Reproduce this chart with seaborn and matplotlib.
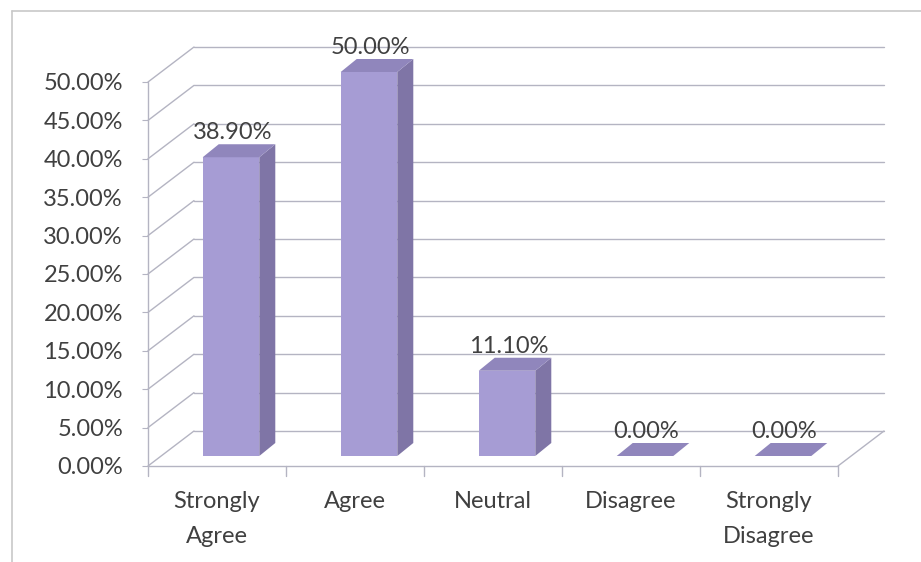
import matplotlib
matplotlib.use("Agg")
import matplotlib.pyplot as plt
import seaborn as sns
import numpy as np
from matplotlib.patches import Polygon
from matplotlib.lines import Line2D

categories = ["Strongly\nAgree", "Agree", "Neutral", "Disagree", "Strongly\nDisagree"]
values = [38.90, 50.00, 11.10, 0.00, 0.00]
y_ticks = [0, 5, 10, 15, 20, 25, 30, 35, 40, 45, 50]
value_labels = ["38.90%", "50.00%", "11.10%", "0.00%", "0.00%"]

FRONT = "#A69CD4"
SIDE = "#7F75A6"
TOP = "#9086BC"
GRID = "#B4B4C2"
TEXT = "#404040"

sns.set_style("white")
plt.rcParams["font.family"] = ["Lato", "DejaVu Sans"]
FS = 17

W, H = 921, 562
fig = plt.figure(figsize=(W / 100, H / 100), dpi=100)
L, R, B, T = 148, 838, 466, 82
ax = fig.add_axes([L / W, (H - B) / H, (R - L) / W, (B - T) / H])
ax.set_xlim(-0.5, len(categories) - 0.5)
ax.set_ylim(0, 50)

def px(dxp, dyp):
    p0 = ax.transData.transform((0, 0))
    q = ax.transData.inverted().transform(p0 + np.array([dxp, dyp]))
    return q[0], q[1]

wall_dx, wall_dy = px(46, 35)
bar_dx, bar_dy = px(14, 10)
dep_dx, dep_dy = px(16, 13)

x0, x1 = -0.5, len(categories) - 0.5

for t in y_ticks:
    ax.add_line(Line2D([x0 + wall_dx, x1 + wall_dx], [t + wall_dy, t + wall_dy],
                       color=GRID, lw=1, zorder=0.5, clip_on=False))
    ax.add_line(Line2D([x0, x0 + wall_dx], [t, t + wall_dy],
                       color=GRID, lw=1, zorder=0.5, clip_on=False))
ax.add_line(Line2D([x0, x0], [0, 50], color=GRID, lw=1, zorder=0.6, clip_on=False))
ax.add_line(Line2D([x0, x1], [0, 0], color=GRID, lw=1, zorder=0.6, clip_on=False))
ax.add_line(Line2D([x1, x1 + wall_dx], [0, wall_dy], color=GRID, lw=1, zorder=0.6, clip_on=False))
_, tick_len = px(0, 10)
for b in np.arange(x0, x1 + 0.01, 1.0):
    ax.add_line(Line2D([b, b], [0, -tick_len], color=GRID, lw=1, zorder=0.6, clip_on=False))

sns.barplot(x=list(range(len(categories))), y=values, color=FRONT, saturation=1,
            width=0.41, ax=ax, zorder=2, edgecolor="none", native_scale=True)

for patch, lab in zip(ax.patches, value_labels):
    bx = patch.get_x()
    bw = patch.get_width()
    bh = patch.get_height()
    patch.set_x(bx + bar_dx)
    patch.set_y(bar_dy)
    patch.set_clip_on(False)
    fx0, fx1 = bx + bar_dx, bx + bw + bar_dx
    fy0, fy1 = bar_dy, bar_dy + bh
    side = Polygon([(fx1, fy0), (fx1 + dep_dx, fy0 + dep_dy),
                    (fx1 + dep_dx, fy1 + dep_dy), (fx1, fy1)],
                   closed=True, facecolor=SIDE, edgecolor="none", zorder=2, clip_on=False)
    top = Polygon([(fx0, fy1), (fx1, fy1), (fx1 + dep_dx, fy1 + dep_dy),
                   (fx0 + dep_dx, fy1 + dep_dy)],
                  closed=True, facecolor=TOP, edgecolor="none", zorder=2.1, clip_on=False)
    ax.add_patch(side)
    ax.add_patch(top)
    ax.text((fx0 + fx1) / 2 + dep_dx * 0.1, fy1 + dep_dy + px(0, 1)[1], lab,
            ha="center", va="bottom", fontsize=FS, color=TEXT, zorder=3)

for s in ax.spines.values():
    s.set_visible(False)
ax.grid(False)
ax.set_yticks(y_ticks)
ax.set_yticklabels([f"{t:.2f}%" for t in y_ticks])
ax.set_xticks(range(len(categories)))
ax.set_xticklabels(categories)
ax.tick_params(axis="y", length=4, color=GRID, pad=14, labelsize=FS, labelcolor=TEXT, left=True)
ax.tick_params(axis="x", length=0, pad=18, labelsize=FS, labelcolor=TEXT)
plt.setp(ax.get_xticklabels(), linespacing=1.8)
ax.set_xlabel("")
ax.set_ylabel("")
ax.patch.set_alpha(0)

fig.add_artist(Line2D([12 / W, 12 / W], [1 - 11 / H, 0], color="#C8C8C8", lw=1.2))
fig.add_artist(Line2D([12 / W, 1], [1 - 11 / H, 1 - 11 / H], color="#C8C8C8", lw=1.2))

fig.savefig("out.png", dpi=100)
